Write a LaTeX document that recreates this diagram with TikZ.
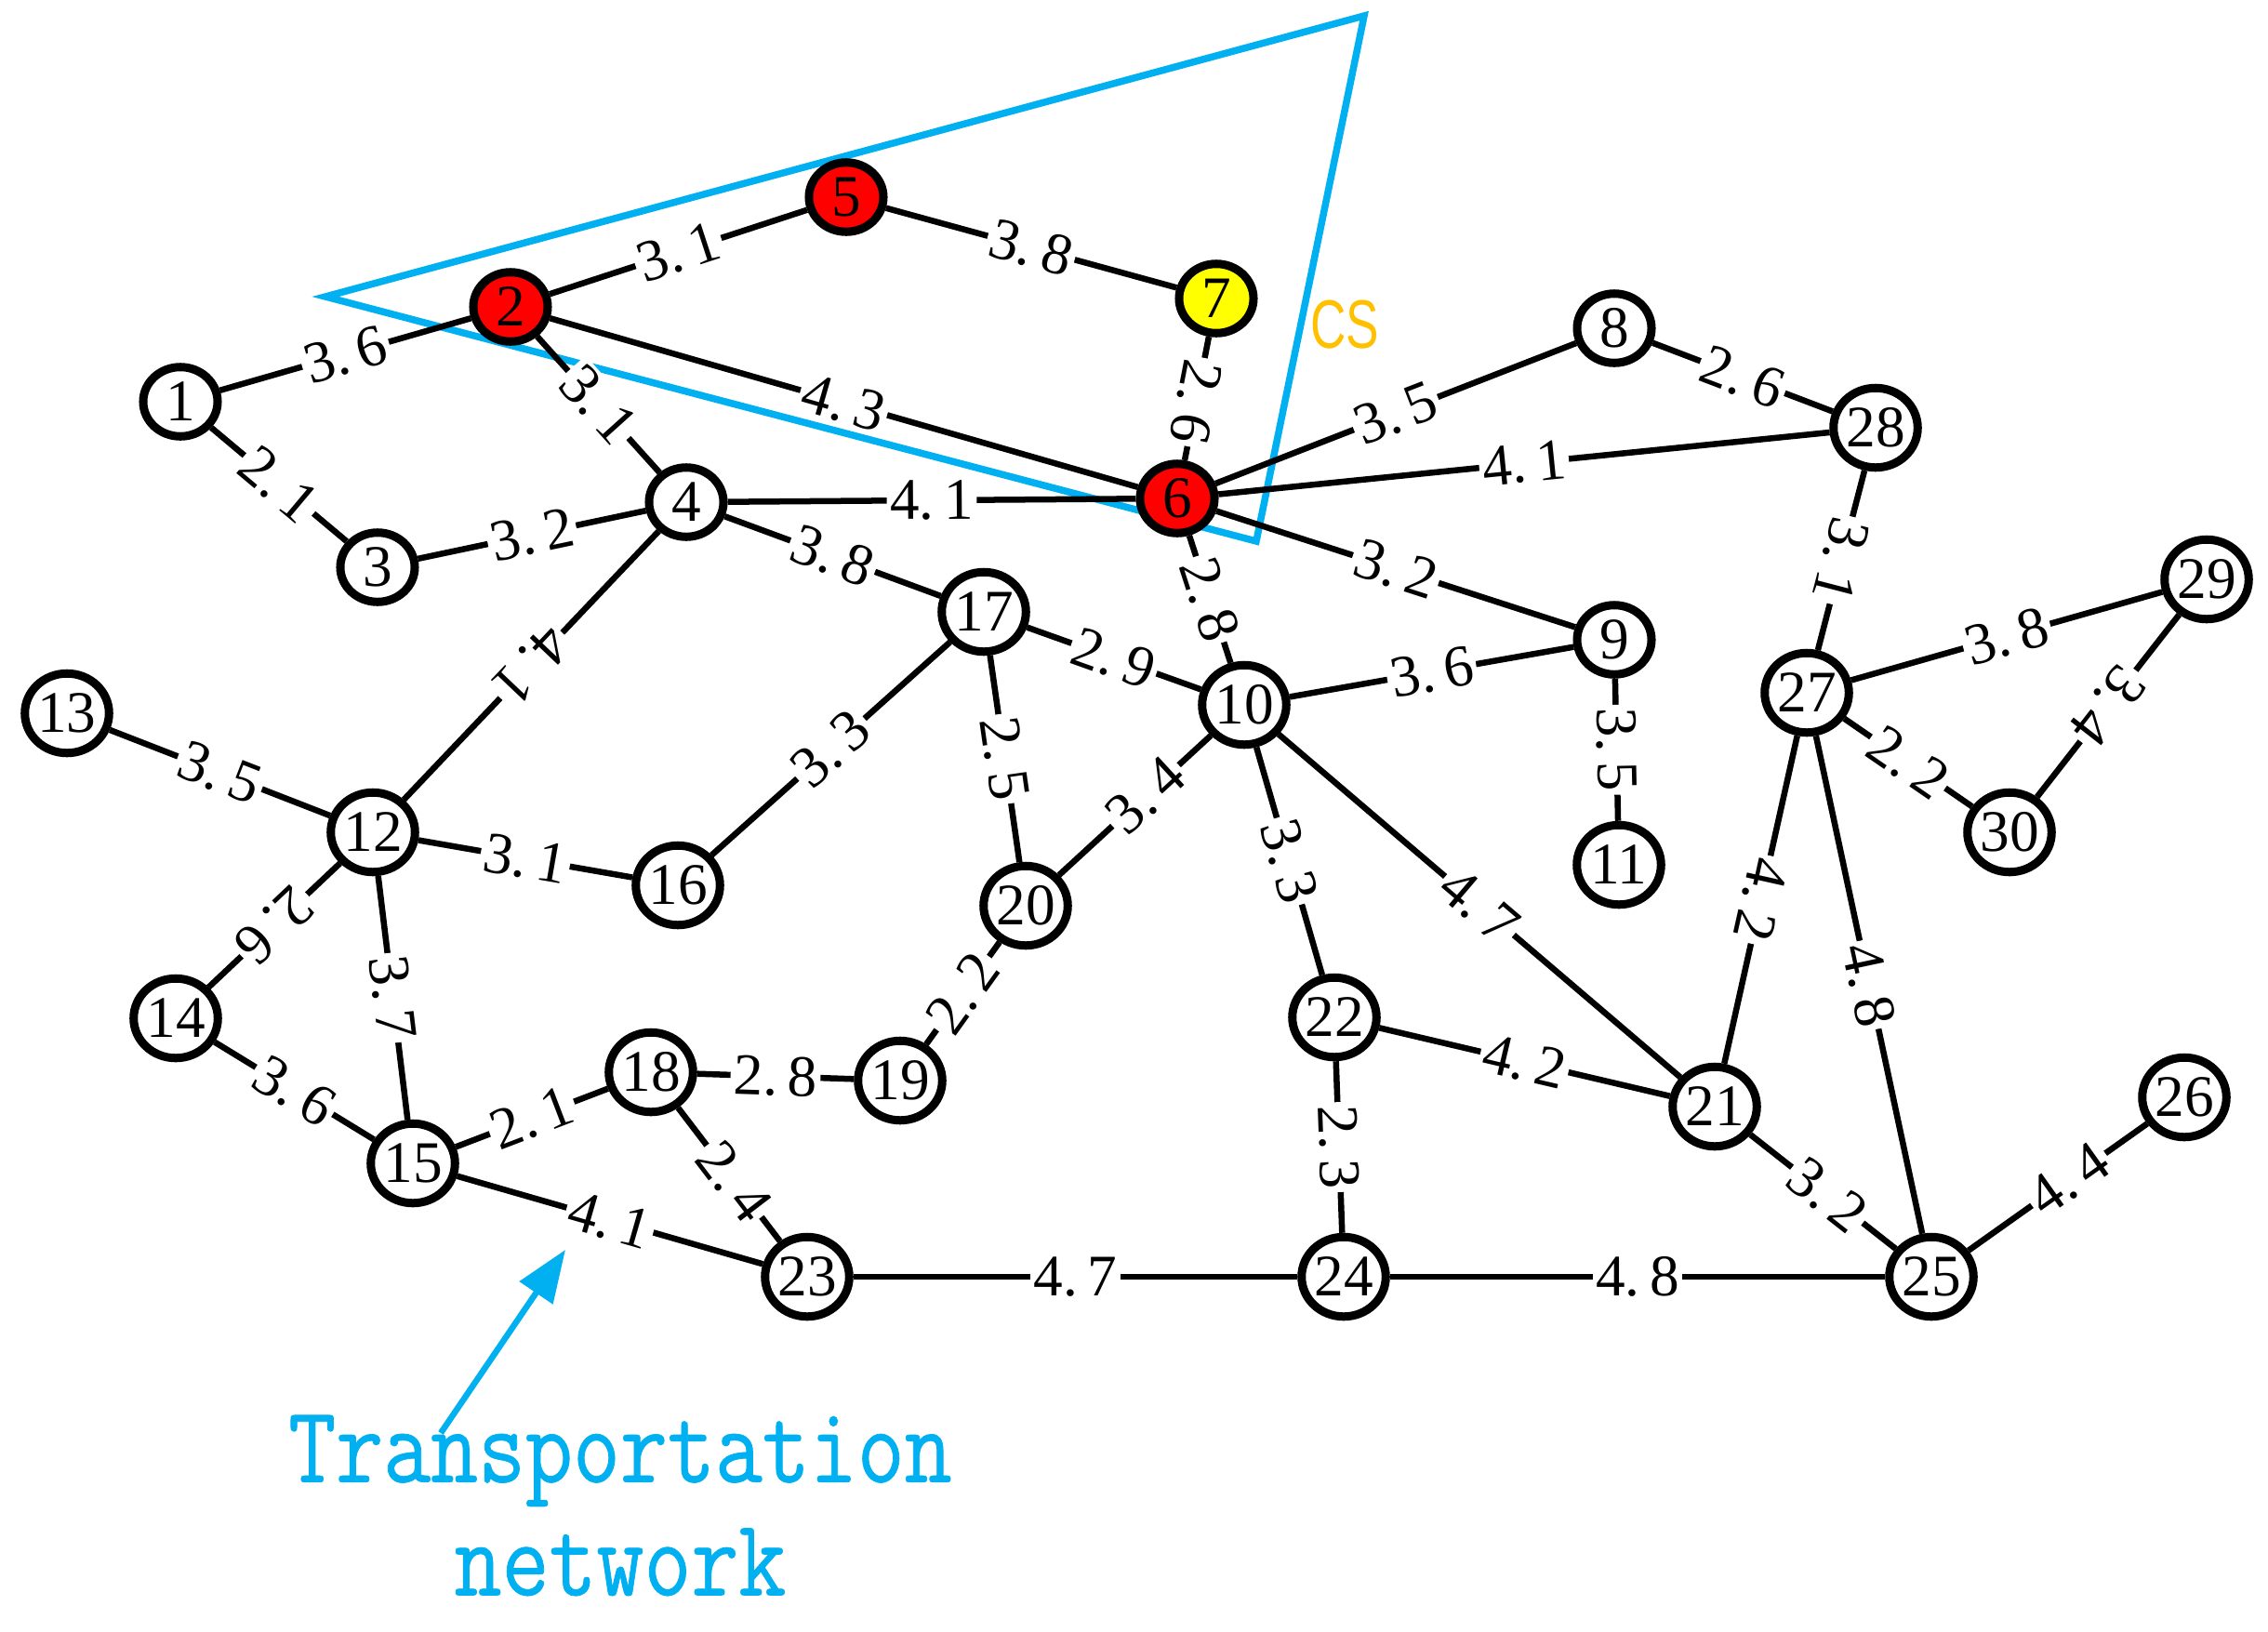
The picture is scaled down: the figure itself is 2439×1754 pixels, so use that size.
\documentclass[tikz,border=0pt]{standalone}
\usepackage{fontspec}
\setmainfont{Liberation Serif}
\newfontfamily\monofnt[FakeStretch=0.84,FakeBold=0.6]{Latin Modern Mono}
\newfontfamily\csfnt[FakeStretch=0.72]{Liberation Sans}
\usetikzlibrary{shapes.geometric,arrows.meta}
\definecolor{netblue}{HTML}{00B0F0}
\definecolor{csorange}{HTML}{FFC000}
\definecolor{hotred}{HTML}{FF0000}
\definecolor{csyellow}{HTML}{FFFF00}
\tikzset{
  nd/.style={ellipse, draw=black, line width=0.09cm, fill=white, inner sep=0pt,
    minimum width=0.8cm, minimum height=0.745cm, font=\fontsize{18}{18}\selectfont},
  ndd/.style={nd, minimum width=0.905cm, minimum height=0.855cm},
  hot/.style={fill=hotred},
  cstation/.style={fill=csyellow},
  edgeln/.style={line width=0.065cm, black},
  lbl/.style={sloped, allow upside down, fill=white, inner sep=1pt,
    font=\fontsize{18}{18}\selectfont},
  region/.style={line width=0.075cm, netblue, line join=miter},
  pointer/.style={line width=0.065cm, netblue, -{Triangle[length=0.56cm,width=0.42cm]}}
}
\newcommand\edg[4][0.5]{\draw[edgeln] (#2) -- node[lbl,pos=#1]{#4} (#3);}
\begin{document}
\begin{tikzpicture}[x=0.01cm, y=-0.01cm]
\useasboundingbox (0,0) rectangle (2439,1754);
% service region
\coordinate (t1) at (350,319);
\coordinate (t2) at (1467,17);
\coordinate (t3) at (1351,582);
\draw[region] (t1) -- (t2) -- (t3) -- cycle;
% nodes
\node[nd] (n1) at (194,432) {1};
\node[nd,hot] (n2) at (549,330) {2};
\node[nd] (n3) at (406,610) {3};
\node[nd] (n4) at (738,540) {4};
\node[nd,hot] (n5) at (910,212) {5};
\node[nd,hot] (n6) at (1266,536) {6};
\node[nd,cstation] (n7) at (1308,321) {7};
\node[nd] (n8) at (1736,353) {8};
\node[nd] (n9) at (1736,688) {9};
\node[ndd] (n10) at (1338,758) {10};
\node[ndd] (n11) at (1741,930) {11};
\node[ndd] (n12) at (401,895) {12};
\node[ndd] (n13) at (72,767) {13};
\node[ndd] (n14) at (189,1095) {14};
\node[ndd] (n15) at (444,1251) {15};
\node[ndd] (n16) at (729,952) {16};
\node[ndd] (n17) at (1058,658) {17};
\node[ndd] (n18) at (700,1153) {18};
\node[ndd] (n19) at (968,1162) {19};
\node[ndd] (n20) at (1103,974) {20};
\node[ndd] (n21) at (1844,1190) {21};
\node[ndd] (n22) at (1435,1094) {22};
\node[ndd] (n23) at (868,1373) {23};
\node[ndd] (n24) at (1445,1373) {24};
\node[ndd] (n25) at (2077,1373) {25};
\node[ndd] (n26) at (2349,1180) {26};
\node[ndd] (n27) at (1943,745) {27};
\node[ndd] (n28) at (2017,460) {28};
\node[ndd] (n29) at (2373,623) {29};
\node[ndd] (n30) at (2161,895) {30};
% edges
\edg{n1}{n2}{3.\,6}
\edg{n1}{n3}{2.\,1}
\edg{n2}{n5}{3.\,1}
\edg{n2}{n4}{3.\,1}
\edg{n2}{n6}{4.\,3}
\edg{n5}{n7}{3.\,8}
\edg[0.53]{n7}{n6}{2.\,6}
\edg{n3}{n4}{3.\,2}
\edg{n4}{n6}{4.\,1}
\edg{n4}{n12}{4.\,1}
\edg{n4}{n17}{3.\,8}
\edg{n6}{n8}{3.\,5}
\edg{n8}{n28}{2.\,6}
\edg{n6}{n28}{4.\,1}
\edg{n6}{n9}{3.\,2}
\edg{n6}{n10}{2.\,8}
\edg{n28}{n27}{3.\,1}
\edg{n17}{n10}{2.\,9}
\edg{n10}{n9}{3.\,6}
\edg{n9}{n11}{3.\,5}
\edg{n13}{n12}{3.\,5}
\edg{n12}{n16}{3.\,1}
\edg{n16}{n17}{3.\,3}
\edg{n17}{n20}{2.\,5}
\edg[0.57]{n20}{n10}{3.\,4}
\edg{n10}{n22}{3.\,3}
\edg{n10}{n21}{4.\,7}
\edg{n12}{n14}{2.\,6}
\edg{n12}{n15}{3.\,7}
\edg{n14}{n15}{3.\,6}
\edg{n15}{n18}{2.\,1}
\edg{n18}{n19}{2.\,8}
\edg{n19}{n20}{2.\,2}
\edg[0.55]{n18}{n23}{2.\,4}
\edg{n15}{n23}{4.\,1}
\edg{n23}{n24}{4.\,7}
\edg{n22}{n24}{2.\,3}
\edg{n22}{n21}{4.\,2}
\edg{n24}{n25}{4.\,8}
\edg[0.53]{n21}{n25}{3.\,2}
\edg{n27}{n21}{4.\,2}
\edg{n27}{n25}{4.\,8}
\edg[0.56]{n25}{n26}{4.\,4}
\edg{n27}{n29}{3.\,8}
\edg{n27}{n30}{2.\,2}
\edg{n29}{n30}{3.\,4}
% annotations
\node[text=csorange, font=\csfnt\fontsize{21}{21}\selectfont, inner sep=0pt] (cs) at (1446,349) {CS};
\node[text=netblue, align=center, inner sep=0pt,
  font=\monofnt\fontsize{33.5}{34.6}\selectfont] (tn) at (667,1619) {Transportation\\network};
\coordinate (atail) at (474,1541);
\coordinate (ahead) at (608,1344);
\draw[pointer] (atail) -- (ahead);
\end{tikzpicture}
\end{document}
